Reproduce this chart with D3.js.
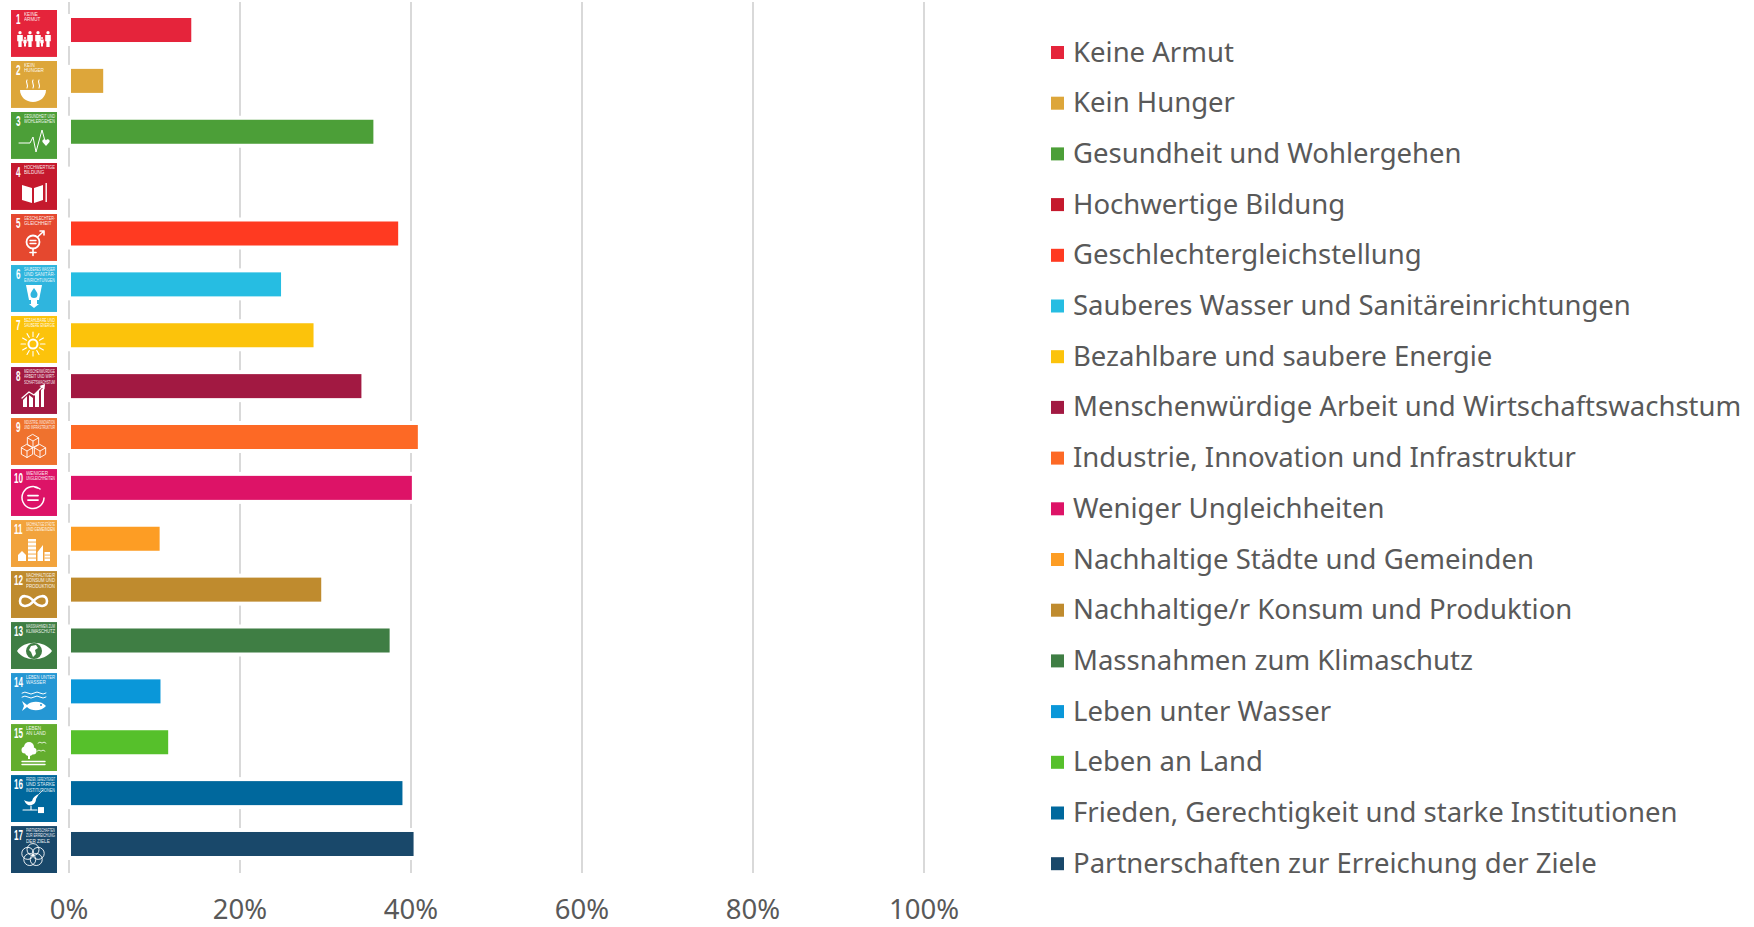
<!DOCTYPE html>
<meta charset="utf-8">
<style>
body { margin: 0; background: #fff; }
text { font-family: "Noto Sans", sans-serif; fill: #595959; }
.tile text { font-family: "Liberation Sans", sans-serif; fill: #fff; }
.tile .num { font-weight: bold; font-size: 14px; }
.tile .cap { font-size: 4.6px; opacity: .9; }
</style>
<body>
<script src="https://d3js.org/d3.v7.min.js"></script>
<script>

const width = 1754;
const height = 927;

const goals = ["Keine Armut", "Kein Hunger", "Gesundheit und Wohlergehen", "Hochwertige Bildung",
  "Geschlechtergleichstellung", "Sauberes Wasser und Sanitäreinrichtungen", "Bezahlbare und saubere Energie",
  "Menschenwürdige Arbeit und Wirtschaftswachstum", "Industrie, Innovation und Infrastruktur",
  "Weniger Ungleichheiten", "Nachhaltige Städte und Gemeinden", "Nachhaltige/r Konsum und Produktion",
  "Massnahmen zum Klimaschutz", "Leben unter Wasser", "Leben an Land",
  "Frieden, Gerechtigkeit und starke Institutionen", "Partnerschaften zur Erreichung der Ziele"];
const shares = [0.143, 0.04, 0.356, 0, 0.385, 0.248, 0.286, 0.342, 0.408, 0.401, 0.106, 0.295, 0.375, 0.107, 0.116, 0.39, 0.403];
const colors = ["#e5243b", "#dda63a", "#4c9f38", "#c5192d", "#ff3a21", "#26bde2", "#fcc30b", "#a21942", "#fd6925",
  "#dd1367", "#fd9d24", "#bf8b2e", "#3f7e44", "#0a97d9", "#56c02b", "#00689d", "#19486a"];
const tileColors = ["#e5243b", "#dda63a", "#4c9f38", "#c5192d", "#e5482f", "#2fb5de", "#fcc30b", "#a21942", "#ef722e",
  "#dd1367", "#f2a33c", "#bf8b2e", "#3f7e44", "#2597d4", "#63ad2e", "#00689d", "#19486a"];
const captions = [["KEINE", "ARMUT"], ["KEIN", "HUNGER"], ["GESUNDHEIT UND", "WOHLERGEHEN"], ["HOCHWERTIGE", "BILDUNG"],
  ["GESCHLECHTER-", "GLEICHHEIT"], ["SAUBERES WASSER", "UND SANITÄR-", "EINRICHTUNGEN"], ["BEZAHLBARE UND", "SAUBERE ENERGIE"],
  ["MENSCHENWÜRDIGE", "ARBEIT UND WIRT-", "SCHAFTSWACHSTUM"], ["INDUSTRIE, INNOVATION", "UND INFRASTRUKTUR"],
  ["WENIGER", "UNGLEICHHEITEN"], ["NACHHALTIGE STÄDTE", "UND GEMEINDEN"], ["NACHHALTIGE/R", "KONSUM UND", "PRODUKTION"],
  ["MASSNAHMEN ZUM", "KLIMASCHUTZ"], ["LEBEN UNTER", "WASSER"], ["LEBEN", "AN LAND"],
  ["FRIEDEN, GERECHTIGKEIT", "UND STARKE", "INSTITUTIONEN"], ["PARTNERSCHAFTEN", "ZUR ERREICHUNG", "DER ZIELE"]];
const ticks = [0, 0.2, 0.4, 0.6, 0.8, 1];

const svg = d3.select("body").append("svg")
    .attr("width", width)
    .attr("height", height);

const x = d3.scaleLinear().domain([0, 1]).range([69, 924]);
const y = d3.scaleBand().domain(goals).range([18, 856]).paddingInner(0.528);
const tileY = d3.scaleBand().domain(goals).range([10, 873]).paddingInner(0.08);

svg.append("g").selectAll("line")
    .data(ticks)
  .enter().append("line")
    .attr("x1", d => x(d)).attr("x2", d => x(d))
    .attr("y1", 2).attr("y2", 873)
    .attr("stroke", "#d9d9d9")
    .attr("stroke-width", 2);

svg.append("g").selectAll("text")
    .data(ticks)
  .enter().append("text")
    .attr("x", d => x(d)).attr("y", 919)
    .attr("text-anchor", "middle")
    .attr("font-size", 27.5)
    .text(d => d3.format(".0%")(d));

// white halo behind each bar cuts the gridlines, also for the empty goal 4
const bars = svg.append("g");
bars.selectAll(".halo")
    .data(goals)
  .enter().append("rect")
    .attr("class", "halo")
    .attr("x", x(0) - 2)
    .attr("y", d => y(d) - 4)
    .attr("width", (d, i) => x(shares[i]) - x(0) + 4)
    .attr("height", y.bandwidth() + 8)
    .attr("fill", "#fff");
bars.selectAll(".bar")
    .data(goals)
  .enter().append("rect")
    .attr("class", "bar")
    .attr("x", x(0) + 2)
    .attr("y", d => y(d))
    .attr("width", (d, i) => Math.max(0, x(shares[i]) - x(0) - 2))
    .attr("height", y.bandwidth())
    .attr("fill", (d, i) => colors[i]);

const legend = svg.append("g").selectAll("g")
    .data(goals)
  .enter().append("g")
    .attr("transform", (d, i) => `translate(1051,${52.5 + i * 50.7})`);
legend.append("rect")
    .attr("y", -6.5).attr("width", 13).attr("height", 13)
    .attr("fill", (d, i) => colors[i]);
legend.append("text")
    .attr("x", 22).attr("y", 9)
    .attr("font-size", 27.5)
    .text(d => d);

// goal icons, drawn in a 46x46 box
function fillPath(g, d) { return g.append("path").attr("d", d).attr("fill", "#fff"); }
function linePath(g, d, w) {
  return g.append("path").attr("d", d).attr("fill", "none").attr("stroke", "#fff")
      .attr("stroke-width", w || 1.2).attr("stroke-linecap", "round").attr("stroke-linejoin", "round");
}
function ring(g, cx, cy, r, w) {
  return g.append("circle").attr("cx", cx).attr("cy", cy).attr("r", r)
      .attr("fill", "none").attr("stroke", "#fff").attr("stroke-width", w || 1.2);
}
function person(g, px, top, h) {
  const r = h * 0.11;
  g.append("circle").attr("cx", px).attr("cy", top + r).attr("r", r).attr("fill", "#fff");
  fillPath(g, `M${px - r * 1.7} ${top + r * 2.4}h${r * 3.4}v${h * 0.42}h${-r * 0.7}v${h * 0.38}h${-r * 2}v${-h * 0.38}h${-r * 0.7}z`);
}
function cube(g, cx, cy, r) {
  const a = r * 0.87, b = r / 2;
  linePath(g, `M${cx} ${cy - r}L${cx + a} ${cy - b}V${cy + b}L${cx} ${cy + r}L${cx - a} ${cy + b}V${cy - b}Z M${cx - a} ${cy - b}L${cx} ${cy}L${cx + a} ${cy - b} M${cx} ${cy}V${cy + r}`, 0.9);
}

const glyphs = [
  g => { [[9, 21, 15], [14, 27, 9], [19, 21, 15], [27, 21, 15], [31, 27, 9], [37, 21, 15]].forEach(p => person(g, p[0], p[1], p[2])); },
  g => {
    fillPath(g, "M9 29H35C35 36 29 41 22 41C15 41 9 36 9 29Z");
    linePath(g, "M16 19C14 22 18 23 16 27M22 19C20 22 24 23 22 27M28 19C26 22 30 23 28 27", 1.1);
  },
  g => {
    linePath(g, "M8 31H19L22 25L25 40L31 18L34 29", 1);
    fillPath(g, "M35 34L31.5 30C30.5 27.5 34 26 35 28.5C36 26 39.5 27.5 38.5 30Z");
  },
  g => {
    fillPath(g, "M11 22L21 25V40L11 37ZM23 25L32 22V37L23 40Z");
    g.append("rect").attr("x", 34.5).attr("y", 20).attr("width", 1.4).attr("height", 19).attr("fill", "#fff");
  },
  g => {
    ring(g, 22, 28, 6.5, 1.8);
    linePath(g, "M22 35V41.5M19 38.5H25M26.5 23L33 17M29 17H33V21", 1.6);
    linePath(g, "M19 26.5H25M19 29.5H25", 1.3);
  },
  g => {
    fillPath(g, "M15 20H31L28 35H18Z");
    fillPath(g, "M20 35H26V39H28L23 43L18 39H20Z");
    g.append("path").attr("d", "M23 23C21 26 19.5 27.5 19.5 29.5A3.5 3.5 0 0 0 26.5 29.5C26.5 27.5 25 26 23 23Z").attr("fill", "#2fb5de");
  },
  g => {
    ring(g, 22, 28, 4.5, 2);
    d3.range(12).forEach(k => {
      const a = k * Math.PI / 6;
      linePath(g, `M${22 + 7.5 * Math.cos(a)} ${28 + 7.5 * Math.sin(a)}L${22 + 12 * Math.cos(a)} ${28 + 12 * Math.sin(a)}`, 1.1);
    });
  },
  g => {
    fillPath(g, "M12 40V33L16 29V40ZM18 40V28L22 31V40ZM24 40V27L28 23V40ZM30 40V23L33 20V40Z");
    linePath(g, "M11 31L18 25L23 28L31 20", 1.3);
    fillPath(g, "M34 17L33.5 22.5L28.5 19Z");
  },
  g => { cube(g, 22, 23, 6.5); cube(g, 16, 33, 6.5); cube(g, 29, 33, 6.5); },
  g => {
    linePath(g, "M29 20A11 11 0 1 0 33 29M24 18.2A11 11 0 0 1 26.5 19", 1.5);
    linePath(g, "M17 26.5H27M17 31H27", 1.8);
  },
  g => {
    fillPath(g, "M7 41V35L11 31L15 35V41ZM17 41V19H25V41ZM26.5 41V32L32 25V41ZM33.5 41V32H39V41Z");
    const holes = g.append("g").attr("stroke", "#f2a33c").attr("stroke-width", 0.9);
    [22, 26, 30, 34, 38].forEach(v => holes.append("line").attr("x1", 17).attr("x2", 25).attr("y1", v).attr("y2", v));
    [35, 38].forEach(v => holes.append("line").attr("x1", 33.5).attr("x2", 39).attr("y1", v).attr("y2", v));
  },
  g => { linePath(g, "M22.5 30C18 24 9 23 9 30C9 37 18 36 22.5 30C27 24 36 23 36 30C36 37 27 36 22.5 30Z", 2.6); },
  g => {
    fillPath(g, "M6 29C13 18 33 18 41 29C33 40 13 40 6 29Z");
    g.append("circle").attr("cx", 23).attr("cy", 29).attr("r", 8).attr("fill", "#3f7e44");
    fillPath(g, "M20 24L25 23L27 26L24 28L25 32L22 35L20 30L18 28Z");
  },
  g => {
    linePath(g, "M11 20Q14 18 17 20T23 20T29 20T35 20M11 24Q14 22 17 24T23 24T29 24T35 24", 1);
    fillPath(g, "M11 28L16 32C21 27 31 28 35 33C31 38 21 39 16 34L11 38L13 33Z");
    g.append("circle").attr("cx", 30).attr("cy", 32).attr("r", 1).attr("fill", "#2597d4");
  },
  g => {
    [[18, 23, 5], [14, 26, 3.5], [22, 27, 3.5], [18, 28, 4]].forEach(c =>
      g.append("circle").attr("cx", c[0]).attr("cy", c[1]).attr("r", c[2]).attr("fill", "#fff"));
    g.append("rect").attr("x", 17).attr("y", 30).attr("width", 2).attr("height", 5).attr("fill", "#fff");
    linePath(g, "M11 37.5H34M11 40.5H34", 1.4);
    linePath(g, "M27 19Q29 17 31 19Q33 17 35 19M26 27Q28 25 30 27Q32 25 34 27", 0.8);
  },
  g => {
    fillPath(g, "M13 25C16 27 19 27 21 26C22 22 25 20 28 19L25 24C25 29 21 31 17 30C15 29 14 27 13 25Z");
    linePath(g, "M28 19L32 15", 0.8);
    linePath(g, "M12 35H26M20 31V35", 1.1);
    fillPath(g, "M27 32H33V38H27Z");
  },
  g => {
    d3.range(5).forEach(k => {
      const a = -Math.PI / 2 + k * 2 * Math.PI / 5;
      ring(g, 22 + 5.5 * Math.cos(a), 29 + 5.5 * Math.sin(a), 6, 0.9);
    });
  }
];

const tiles = svg.append("g").selectAll("g")
    .data(goals)
  .enter().append("g")
    .attr("class", "tile")
    .attr("transform", d => `translate(11,${tileY(d)})`);
tiles.append("rect")
    .attr("width", 46).attr("height", tileY.bandwidth())
    .attr("fill", (d, i) => tileColors[i]);
// the printed numerals are tall and condensed
tiles.append("text")
    .attr("class", "num")
    .attr("transform", (d, i) => `translate(${i < 9 ? 5 : 3},13.5) scale(0.58,1)`)
    .text((d, i) => i + 1);
tiles.each(function (d, i) {
  const g = d3.select(this);
  const left = i < 9 ? 13 : 15;
  captions[i].forEach((line, k) => {
    const t = g.append("text").attr("class", "cap")
        .attr("x", left).attr("y", 6 + k * 5.4).text(line);
    if (t.node().getComputedTextLength() > 44 - left) {
      t.attr("textLength", 44 - left).attr("lengthAdjust", "spacingAndGlyphs");
    }
  });
  glyphs[i](g);
});

</script>
</body>
